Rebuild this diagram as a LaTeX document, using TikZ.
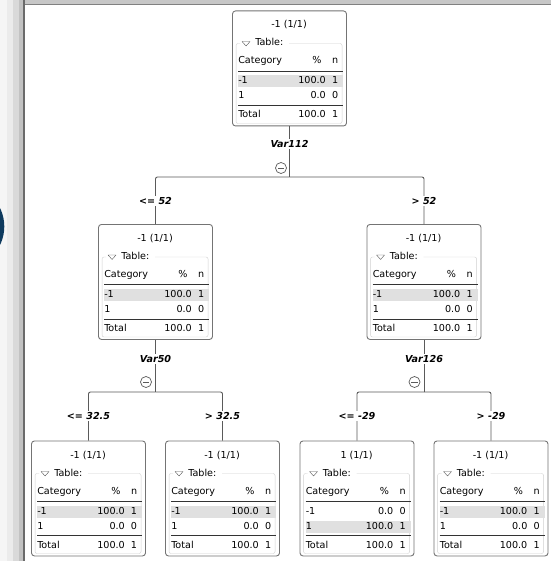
\documentclass[tikz,border=0pt]{standalone}
\usepackage{fontspec}
\setmainfont{DejaVu Sans}
\definecolor{boxgray}{HTML}{747474}
\definecolor{linegray}{HTML}{5A5A5A}
\definecolor{grpgray}{HTML}{D0D0D0}
\definecolor{rowgray}{HTML}{E0E0E0}
\definecolor{navy}{HTML}{0E3A5E}

% one tree node: name, centre x, top y, title, row -1 (%, n), row 1 (%, n), shaded row
\newcommand{\ctbox}[9]{%
  \node[cbox] (#1) at (#2,#3) {};
  \begin{scope}[shift={(#1.north west)}]
    \node[txt] (#1-t) at (57,15) {#4};
    % group frame with its label
    \draw[grpgray, rounded corners=2pt] (57,33) -- (110,33) -- (110,113) -- (4,113) -- (4,33) -- (8,33);
    \draw[linegray, line join=round] (10,31) -- (18,31) -- (14,35.5) -- cycle;
    \node[txt, anchor=west] (#1-g) at (23,33) {Table:};
    % table
    \fill[rowgray] (6,{50+15*#9}) rectangle (111,{62+15*#9});
    \node[txt, anchor=west] at (6,51) {Category};
    \node[txt] at (85,51) {\%};
    \node[txt] at (103,51) {n};
    \draw[black!80] (6,60.5) -- (111,60.5);
    \node[txt, anchor=west] at (6,71) {-1};
    \node[txt, anchor=east] at (94,71) {#5};
    \node[txt] at (103,71) {#6};
    \node[txt, anchor=west] at (6,86) {1};
    \node[txt, anchor=east] at (94,86) {#7};
    \node[txt] at (103,86) {#8};
    \draw[black!80] (6,95) -- (111,95);
    \node[txt, anchor=west] at (6,105) {Total};
    \node[txt, anchor=east] at (94,105) {100.0};
    \node[txt] at (103,105) {1};
  \end{scope}
}

\begin{document}
\begin{tikzpicture}[x=1pt, y=-1pt,
    cbox/.style={draw=boxgray, fill=white, line width=0.9pt, rounded corners=3pt,
      minimum width=114pt, minimum height=115pt, inner sep=0pt, anchor=north},
    txt/.style={inner sep=0pt, text height=7pt, text depth=2pt, font=\fontsize{9.6}{10}\selectfont},
    conn/.style={linegray, line width=0.9pt, rounded corners=2pt},
    split/.style={fill=white, inner sep=1pt, font=\fontsize{9.6}{10}\selectfont\bfseries\itshape},
    minus/.style={linegray, line width=0.7pt}]
  \useasboundingbox (0,0) rectangle (551,561);
  % window frame
  \fill[white] (0,0) rectangle (551,561);
  \fill[black!4] (0,0) rectangle (7,561);
  \fill[black!8] (7,0) rectangle (13,561);
  \fill[black!15] (13,0) rectangle (19,561);
  \fill[black!24] (19,0) rectangle (23,561);
  \fill[black!58] (23,0) rectangle (25,561);
  \fill[black!22] (25,0) rectangle (551,4);
  \fill[black!50] (25,4) rectangle (551,5.2);
  \begin{scope}
    \clip (0,0) rectangle (23,561);
    \fill[navy] (-37.6,226.5) circle (41.9pt);
  \end{scope}
  % Boxes
  \ctbox{root}{289.5}{10.5}{-1 (1/1)}{100.0}{1}{0.0}{0}{1}
  \ctbox{left}{155.5}{224}{-1 (1/1)}{100.0}{1}{0.0}{0}{1}
  \ctbox{right}{424}{224}{-1 (1/1)}{100.0}{1}{0.0}{0}{1}
  \ctbox{leafa}{88.5}{440.5}{-1 (1/1)}{100.0}{1}{0.0}{0}{1}
  \ctbox{leafb}{222.5}{440.5}{-1 (1/1)}{100.0}{1}{0.0}{0}{1}
  \ctbox{leafc}{357}{440.5}{1 (1/1)}{0.0}{0}{100.0}{1}{2}
  \ctbox{leafd}{491}{440.5}{-1 (1/1)}{100.0}{1}{0.0}{0}{1}
  % First split
  \coordinate (s0) at (289.5,177);
  \draw[conn] (root.south) -- (s0);
  \draw[conn] (s0) -| (left.north);
  \draw[conn] (s0) -| (right.north);
  \node[split] (v112) at (289.5,144) {Var112};
  \draw[minus, fill=white] (281,168) circle (5.5pt);
  \draw[minus] (277.8,168) -- (284.2,168);
  \node[split] (le52) at (155.5,201) {<= 52};
  \node[split] (gt52) at (424,201) {> 52};
  % Second split, left
  \coordinate (s1) at (155.5,392);
  \draw[conn] (left.south) -- (s1);
  \draw[conn] (s1) -| (leafa.north);
  \draw[conn] (s1) -| (leafb.north);
  \node[split] (v50) at (155.5,359) {Var50};
  \draw[minus, fill=white] (146,382) circle (5.5pt);
  \draw[minus] (142.8,382) -- (149.2,382);
  \node[split] (le325) at (88.5,416) {<= 32.5};
  \node[split] (gt325) at (222.5,416) {> 32.5};
  % Second split, right
  \coordinate (s2) at (424,392);
  \draw[conn] (right.south) -- (s2);
  \draw[conn] (s2) -| (leafc.north);
  \draw[conn] (s2) -| (leafd.north);
  \node[split] (v126) at (424,359) {Var126};
  \draw[minus, fill=white] (414.5,382) circle (5.5pt);
  \draw[minus] (411.3,382) -- (417.7,382);
  \node[split] (le29) at (357,416) {<= -29};
  \node[split] (gt29) at (491,416) {> -29};
\end{tikzpicture}
\end{document}
